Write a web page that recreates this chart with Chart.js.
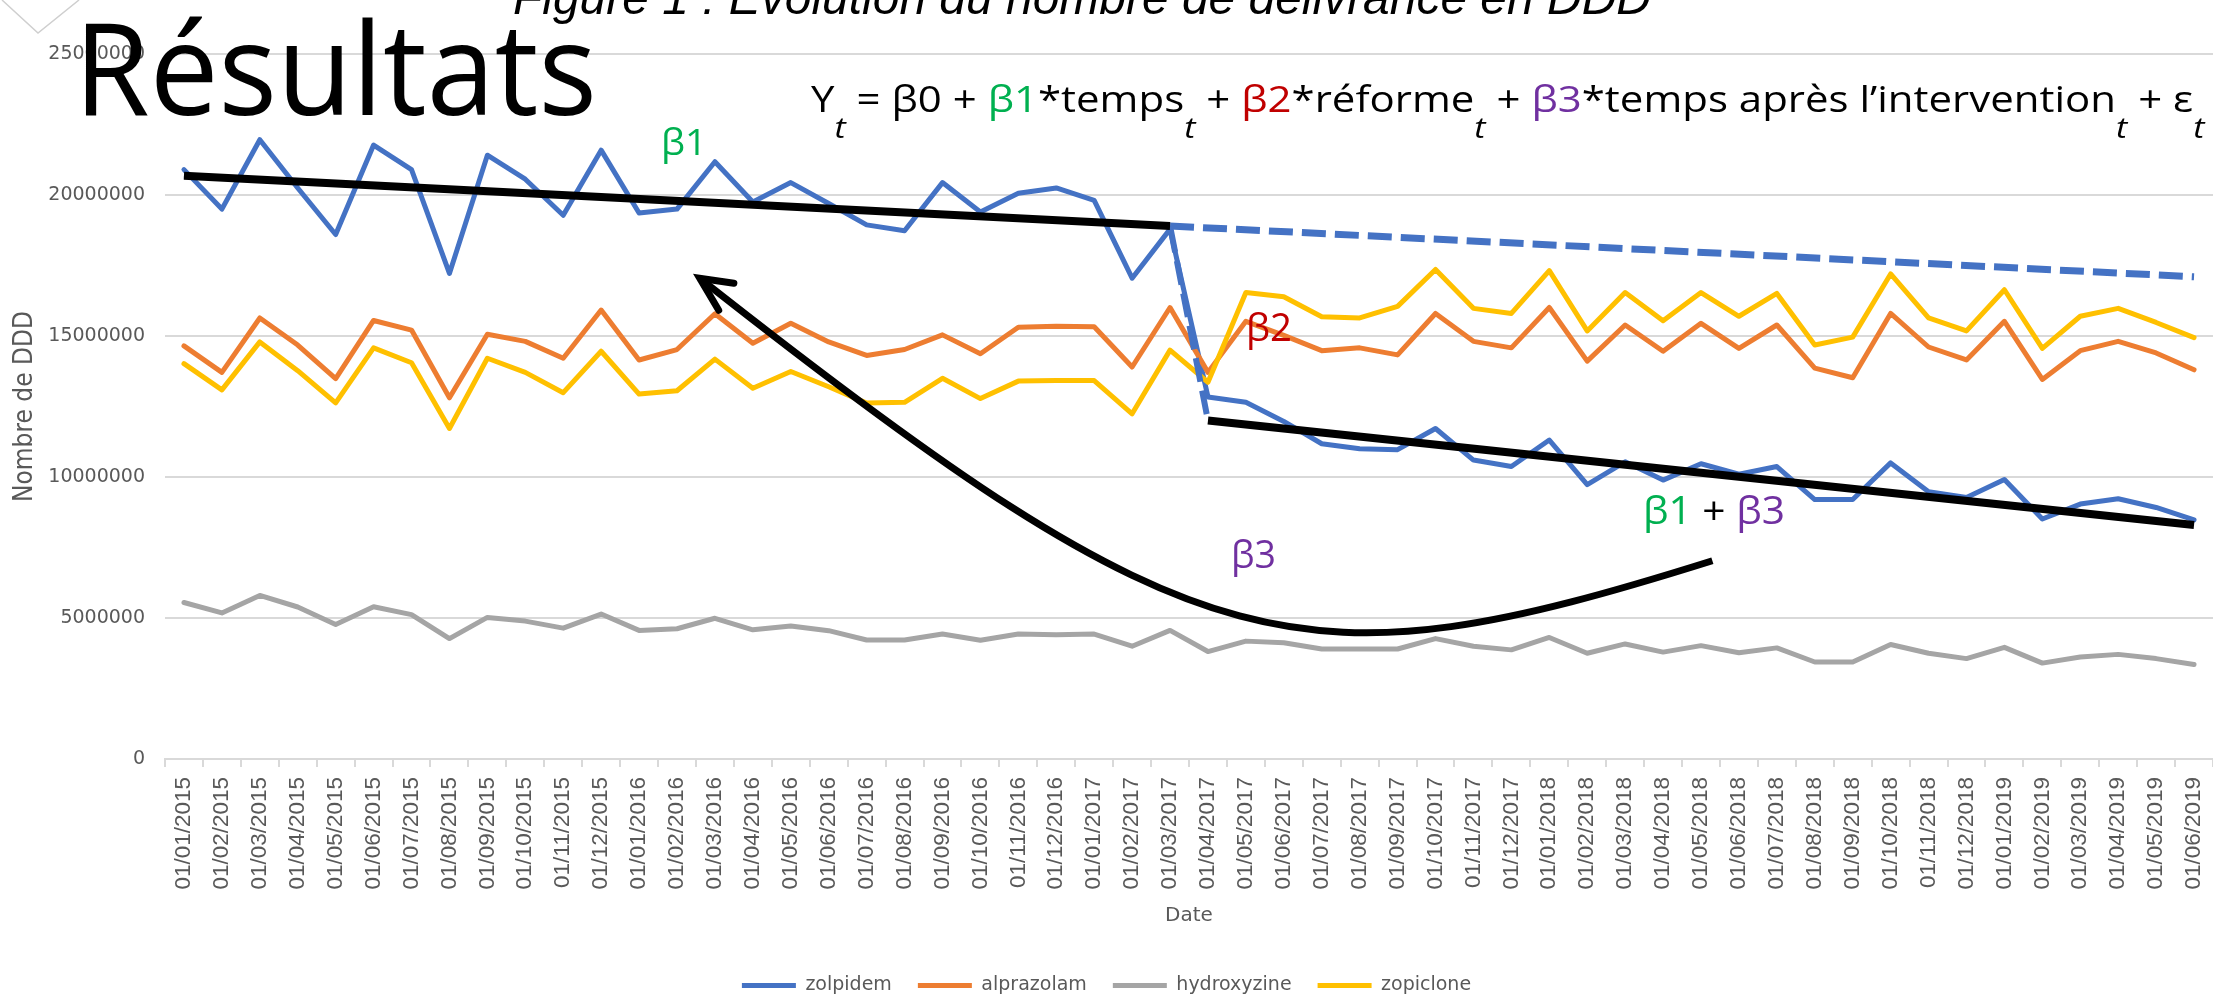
<!DOCTYPE html>
<html lang="fr">
<head>
<meta charset="utf-8">
<title>Evolution du nombre de délivrance en DDD</title>
<script src="https://cdn.jsdelivr.net/npm/chart.js@4.4.1/dist/chart.umd.min.js"></script>
<style>
  html, body { margin: 0; padding: 0; background: #fff; overflow: hidden; }
  #wrap { position: relative; width: 2213px; height: 1005px; }
  #chart { position: absolute; left: 0; top: 0; }
  #overlay { position: absolute; left: 0; top: 0; pointer-events: none; }
  #overlay text { white-space: pre; }
  .sub { font-style: italic; font-size: 30px; }
</style>
</head>
<body>
<div id="wrap">
  <canvas id="chart" width="2213" height="1005"></canvas>
  <svg id="overlay" width="2213" height="998" xmlns="http://www.w3.org/2000/svg">
    <polyline points="2,0 38,33 79,0" fill="none" stroke="#cfcfcf" stroke-width="1.5"/>
    <text x="513" y="14" font-family="'Liberation Sans', Arial, sans-serif" font-style="italic" font-size="48" fill="#000" data-w="1138">Figure 1 : Evolution du nombre de délivrance en DDD</text>
    <text x="74" y="115" font-family="'Open Sans', sans-serif" font-weight="400" font-size="128" fill="#000" data-w="523">Résultats</text>
    <text x="811" y="112" font-family="'Open Sans', sans-serif" font-size="37" fill="#000" data-w="1395"><tspan>Y</tspan><tspan class="sub" dy="26">t</tspan><tspan dy="-26"> = β0 + </tspan><tspan fill="#00B050">β1</tspan><tspan>*temps</tspan><tspan class="sub" dy="26">t</tspan><tspan dy="-26"> + </tspan><tspan fill="#C00000">β2</tspan><tspan>*réforme</tspan><tspan class="sub" dy="26">t</tspan><tspan dy="-26"> + </tspan><tspan fill="#7030A0">β3</tspan><tspan>*temps après l’intervention</tspan><tspan class="sub" dy="26">t</tspan><tspan dy="-26"> + ε</tspan><tspan class="sub" dy="26">t</tspan></text>
    <text x="661" y="155" font-family="'Open Sans', sans-serif" font-size="36" fill="#00B050" data-w="46">β1</text>
    <text x="1246" y="341" font-family="'Open Sans', sans-serif" font-size="39" fill="#C00000" data-w="46">β2</text>
    <text x="1231" y="568" font-family="'Open Sans', sans-serif" font-size="39" fill="#7030A0" data-w="45">β3</text>
    <text x="1643" y="524" font-family="'Open Sans', sans-serif" font-size="39" fill="#000" data-w="142"><tspan fill="#00B050">β1</tspan><tspan> + </tspan><tspan fill="#7030A0">β3</tspan></text>
  </svg>
</div>
<script>
const dates = [
  '01/01/2015', '01/02/2015', '01/03/2015', '01/04/2015', '01/05/2015', '01/06/2015',
  '01/07/2015', '01/08/2015', '01/09/2015', '01/10/2015', '01/11/2015', '01/12/2015',
  '01/01/2016', '01/02/2016', '01/03/2016', '01/04/2016', '01/05/2016', '01/06/2016',
  '01/07/2016', '01/08/2016', '01/09/2016', '01/10/2016', '01/11/2016', '01/12/2016',
  '01/01/2017', '01/02/2017', '01/03/2017', '01/04/2017', '01/05/2017', '01/06/2017',
  '01/07/2017', '01/08/2017', '01/09/2017', '01/10/2017', '01/11/2017', '01/12/2017',
  '01/01/2018', '01/02/2018', '01/03/2018', '01/04/2018', '01/05/2018', '01/06/2018',
  '01/07/2018', '01/08/2018', '01/09/2018', '01/10/2018', '01/11/2018', '01/12/2018',
  '01/01/2019', '01/02/2019', '01/03/2019', '01/04/2019', '01/05/2019', '01/06/2019'
];

const zolpidem = [
  20900000, 19500000, 21960000, 20250000, 18600000, 21770000, 20900000, 17220000, 21410000,
  20560000, 19280000, 21590000, 19360000, 19500000, 21180000, 19750000, 20440000, 19700000,
  18940000, 18730000, 20440000, 19400000, 20060000, 20250000, 19810000, 17050000, 18790000,
  12840000, 12650000, 11970000, 11180000, 11000000, 10970000, 11720000, 10600000, 10370000,
  11310000, 9730000, 10540000, 9890000, 10470000, 10100000, 10370000, 9200000, 9200000,
  10500000, 9480000, 9270000, 9910000, 8510000, 9040000, 9230000, 8920000, 8480000
];
const alprazolam = [
  14650000, 13710000, 15640000, 14680000, 13490000, 15550000, 15210000, 12810000, 15060000,
  14810000, 14210000, 15920000, 14150000, 14520000, 15790000, 14740000, 15450000, 14790000,
  14310000, 14520000, 15040000, 14370000, 15310000, 15350000, 15330000, 13900000, 16010000,
  13710000, 15520000, 15020000, 14480000, 14580000, 14330000, 15800000, 14810000, 14580000,
  16010000, 14110000, 15390000, 14460000, 15450000, 14560000, 15390000, 13860000, 13520000,
  15800000, 14610000, 14150000, 15520000, 13460000, 14480000, 14810000, 14400000, 13800000
];
const hydroxyzine = [
  5550000, 5180000, 5800000, 5390000, 4770000, 5400000, 5120000, 4270000, 5020000,
  4890000, 4640000, 5140000, 4560000, 4620000, 4990000, 4580000, 4720000, 4550000,
  4220000, 4220000, 4430000, 4210000, 4430000, 4410000, 4430000, 4000000, 4560000,
  3810000, 4180000, 4120000, 3900000, 3900000, 3900000, 4270000, 4000000, 3870000,
  4310000, 3750000, 4080000, 3790000, 4020000, 3770000, 3940000, 3440000, 3440000,
  4060000, 3750000, 3560000, 3960000, 3400000, 3620000, 3710000, 3560000, 3350000
];
const zopiclone = [
  14020000, 13090000, 14790000, 13770000, 12630000, 14580000, 14050000, 11720000, 14210000,
  13710000, 12990000, 14460000, 12940000, 13060000, 14180000, 13150000, 13740000, 13200000,
  12620000, 12650000, 13500000, 12780000, 13400000, 13420000, 13420000, 12240000, 14500000,
  13360000, 16540000, 16390000, 15680000, 15640000, 16050000, 17360000, 15980000, 15800000,
  17320000, 15180000, 16540000, 15540000, 16540000, 15700000, 16510000, 14680000, 14960000,
  17200000, 15640000, 15180000, 16640000, 14560000, 15700000, 15980000, 15480000, 14940000
];

const yTicks = [0, 5000000, 10000000, 15000000, 20000000, 25000000];

// segmented regression lines drawn over the data: [month index, DDD]
const preTrend = [[0, 20680000], [26, 18900000]];
const postTrend = [[27, 12000000], [53, 8300000]];
const fitted = [[0, 20680000], [26, 18900000], [27, 12000000], [53, 8300000]];
const counterfactual = [[26, 18900000], [53, 17100000]];

// curved arrow (bezier) and its head, in [month index, DDD]
const arrowPath = [[13.6, 17050000], [26.8, 3050000], [29.45, 2450000], [40.3, 7030000]];
const arrowHead = [[14.5, 16870000], [13.6, 17050000], [14.1, 15910000]];

function sparse(points) {
  const arr = dates.map(() => null);
  points.forEach(([i, v]) => { arr[i] = v; });
  return arr;
}

const arrowPlugin = {
  id: 'arrow',
  afterDatasetsDraw(chart) {
    const { ctx, scales: { x, y } } = chart;
    const px = p => [x.getPixelForValue(p[0]), y.getPixelForValue(p[1])];
    const [p0, c1, c2, p3] = arrowPath.map(px);
    ctx.save();
    ctx.strokeStyle = '#000';
    ctx.lineWidth = 7;
    ctx.lineCap = 'butt';
    ctx.beginPath();
    ctx.moveTo(p0[0], p0[1]);
    ctx.bezierCurveTo(c1[0], c1[1], c2[0], c2[1], p3[0], p3[1]);
    ctx.stroke();
    const head = arrowHead.map(px);
    ctx.lineCap = 'round';
    ctx.beginPath();
    ctx.moveTo(head[0][0], head[0][1]);
    ctx.lineTo(head[1][0], head[1][1]);
    ctx.lineTo(head[2][0], head[2][1]);
    ctx.stroke();
    ctx.restore();
  }
};

const series = (label, data, color, order) => ({
  label, data, order,
  borderColor: color, backgroundColor: color,
  borderWidth: 5, pointRadius: 0, pointHoverRadius: 0,
  borderCapStyle: 'round', borderJoinStyle: 'round', tension: 0
});

const guide = (label, points, color, width, dash, order) => ({
  label, data: sparse(points), order,
  borderColor: color, backgroundColor: color,
  borderWidth: width, borderDash: dash, pointRadius: 0, pointHoverRadius: 0,
  borderCapStyle: 'butt', borderJoinStyle: 'miter', spanGaps: true, tension: 0
});

new Chart(document.getElementById('chart'), {
  type: 'line',
  data: {
    labels: dates,
    datasets: [
      series('zolpidem', zolpidem, '#4472C4', 10),
      series('alprazolam', alprazolam, '#ED7D31', 9),
      series('hydroxyzine', hydroxyzine, '#A5A5A5', 8),
      series('zopiclone', zopiclone, '#FFC000', 7),
      guide('ajustement', fitted, '#4472C4', 6, [24, 9], 4),
      guide('contrefactuel', counterfactual, '#4472C4', 7, [24, 9], 3),
      guide('tendance avant', preTrend, '#000000', 8, [], 2),
      guide('tendance après', postTrend, '#000000', 8, [], 1)
    ]
  },
  options: {
    responsive: false,
    animation: false,
    events: [],
    layout: { padding: { top: 54, left: 0, right: 0, bottom: 0 }, autoPadding: false },
    plugins: {
      tooltip: { enabled: false },
      legend: {
        position: 'bottom',
        labels: {
          usePointStyle: true,
          pointStyle: 'line',
          pointStyleWidth: 54,
          padding: 26,
          color: '#595959',
          font: { family: "'DejaVu Sans', sans-serif", size: 19 },
          filter: item => item.datasetIndex < 4,
          sort: (a, b) => a.datasetIndex - b.datasetIndex
        }
      }
    },
    scales: {
      x: {
        offset: true,
        afterFit: s => { s.height = 191; s.paddingLeft = 0; s.paddingRight = 0; },
        grid: { display: true, drawOnChartArea: false, drawTicks: true, tickLength: 8, offset: true, color: '#d9d9d9', lineWidth: 2 },
        border: { display: true, color: '#d9d9d9', width: 2 },
        ticks: {
          autoSkip: false, minRotation: 90, maxRotation: 90, padding: 10,
          color: '#595959',
          font: { family: "'Liberation Sans', Arial, sans-serif", size: 22.5 }
        },
        title: {
          display: true, text: 'Date', color: '#595959',
          font: { family: "'DejaVu Sans', sans-serif", size: 20 },
          padding: { top: 10, bottom: 22 }
        }
      },
      y: {
        min: 0, max: 25000000,
        afterBuildTicks: s => { s.ticks = yTicks.map(v => ({ value: v })); },
        afterFit: s => { s.width = 165; s.paddingTop = 0; s.paddingBottom = 0; },
        grid: { color: '#d9d9d9', lineWidth: 2, drawTicks: false },
        border: { display: false },
        ticks: {
          padding: 20, color: '#595959',
          font: { family: "'DejaVu Sans', sans-serif", size: 19 },
          callback: v => String(v)
        },
        title: {
          display: true, text: 'Nombre de DDD', color: '#595959',
          font: { family: "'Liberation Sans Narrow', 'DejaVu Sans Condensed', sans-serif", size: 26 },
          padding: { top: 10, bottom: 0 }
        }
      }
    }
  },
  plugins: [arrowPlugin]
});

function fitTexts() {
  document.querySelectorAll('#overlay text[data-w]').forEach(el => {
    const w = parseFloat(el.dataset.w);
    const x = parseFloat(el.getAttribute('x'));
    const bw = el.getBBox().width;
    if (bw > 0) el.setAttribute('transform', `translate(${x} 0) scale(${w / bw} 1) translate(${-x} 0)`);
  });
}
document.fonts.ready.then(fitTexts);
</script>
</body>
</html>
